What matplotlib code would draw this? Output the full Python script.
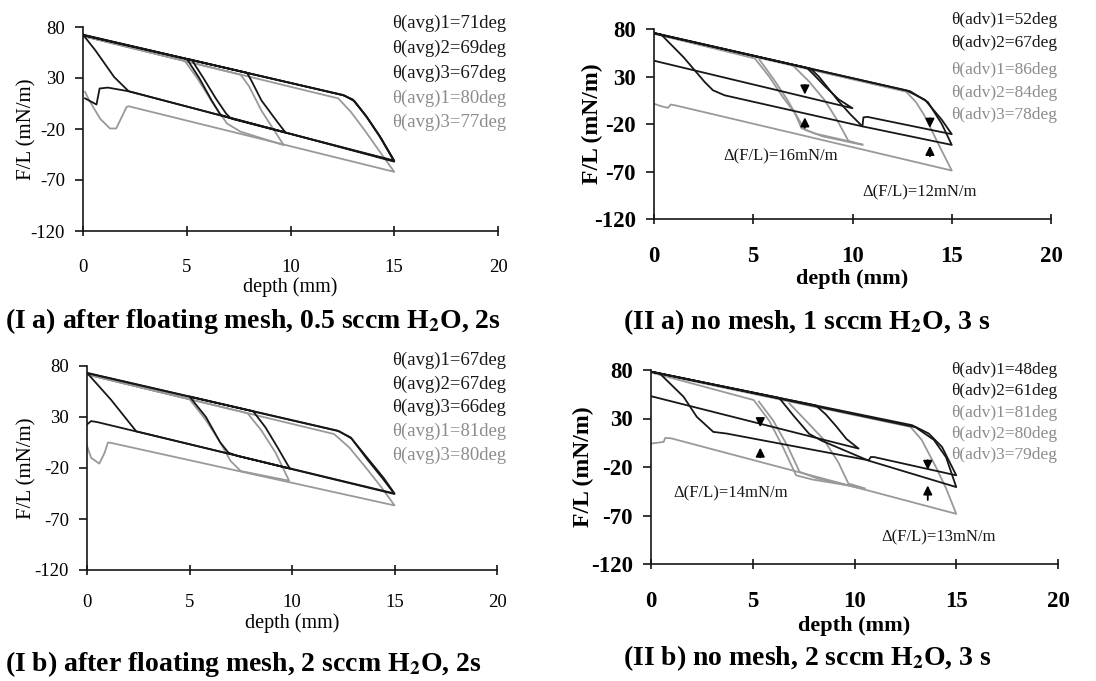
import matplotlib
matplotlib.use("Agg")
import matplotlib.pyplot as plt

plt.rcParams['font.family'] = ['Liberation Serif', 'DejaVu Serif']
plt.rcParams['mathtext.fontset'] = 'stix'
plt.rcParams['axes.unicode_minus'] = False

W, H = 1096, 681
BLACK = '#171717'
GRAY = '#999999'
LEG_GRAY = '#8c8c8c'

depth_ticks = [0, 5, 10, 15, 20]
force_ticks = [-120, -70, -20, 30, 80]

# ---- (I a) after floating mesh, 0.5 sccm
ia_black = [
    ([0.1, 0.65, 0.8, 1.2, 2.2, 15.0, 14.31, 13.67, 13.03, 12.55, 0.0],
     [10, 4, 19.7, 20.6, 17.0, -51.5, -27.7, -8.1, 8.2, 13.1, 72.5]),
    ([0.0, 0.6, 1.5, 2.2, 9.75, 9.4, 8.6, 8.1, 7.9, 5.0, 5.6, 6.2, 6.62, 7.26, 15.0, 14.35, 13.7, 13.1, 12.6, 0.0],
     [72.5, 57, 31, 17, -23.2, -14, 8, 28, 35.2, 48.8, 30, 8, -6, -10.5, -51.0, -28.5, -9, 7, 12.8, 72.2]),
    ([0.0, 5.25, 5.8, 6.4, 6.9, 7.1, 15.0, 14.3, 13.6, 13.0, 12.5, 0.0],
     [72.0, 47.5, 30, 10, -5, -9, -52, -27, -6, 9, 13.5, 72.0]),
]
ia_gray = [
    ([0.1, 0.3, 0.83, 1.3, 1.6, 2.1, 2.2, 15.0, 14.4, 13.6, 12.9, 12.3, 0.0],
     [16.4, 8, -10, -19.5, -19.5, 1.6, 2.3, -62, -45, -22, -3, 10, 71]),
    ([0.0, 4.9, 5.5, 6.3, 6.94, 7.58, 9.67, 9.3, 8.6, 8.0, 7.6, 0.0],
     [71.2, 46.8, 30, 4, -14.6, -22.5, -35.8, -24, -2, 22, 33.2, 71.2]),
]
ia_legend = ['θ(avg)1=71deg', 'θ(avg)2=69deg', 'θ(avg)3=67deg', 'θ(avg)1=80deg', 'θ(avg)3=77deg']

# ---- (I b) after floating mesh, 2 sccm
ib_black = [
    ([0.0, 0.2, 0.5, 15.0, 14.48, 13.67, 12.86, 12.21, 0.0],
     [22.7, 26, 25, -45, -30, -10, 10, 16.7, 73.3]),
    ([0.0, 1.18, 2.4, 9.9, 9.78, 9.3, 8.7, 8.1, 5.0, 5.8, 6.5, 6.9, 7.4, 15.0, 14.45, 13.65, 12.9, 12.3, 0.0],
     [73.3, 46.7, 16, -20.5, -16.7, 0, 20, 35.7, 50.1, 30, 5, -5, -8.5, -45.5, -31, -11, 9, 16, 73.0]),
]
ib_gray = [
    ([0.0, 0.2, 0.6, 0.86, 1.02, 1.2, 15.0, 14.4, 13.7, 12.8, 12.05, 0.0],
     [1.7, -10, -15.7, -5, 5, 4.5, -56.7, -40, -22, 0, 13.3, 71.7]),
    ([0.0, 5.0, 5.8, 6.5, 7.0, 7.5, 9.86, 9.2, 8.5, 7.83, 0.0],
     [71.7, 47.5, 27, 5, -13, -23, -32.5, -5, 17, 33.7, 71.7]),
]
ib_legend = ['θ(avg)1=67deg', 'θ(avg)2=67deg', 'θ(avg)3=66deg', 'θ(avg)1=81deg', 'θ(avg)3=80deg']

# ---- (II a) no mesh, 1 sccm
iia_black = [
    ([0.0, 10.0, 9.3, 8.6, 8.0, 7.7, 0.0],
     [46.6, -3.4, 6, 20, 33, 39.2, 75.8]),
    ([0.0, 0.37, 1.5, 2.55, 2.97, 3.56, 10.5, 10.55, 10.75, 15.0, 14.5, 13.65, 12.72, 0.0],
     [75.8, 74, 50, 24.3, 15.5, 10.2, -22.5, -13, -12.5, -30.7, -15.6, 5.5, 15.3, 75.8]),
    ([0.0, 7.9, 8.3, 8.8, 9.3, 9.9, 10.5, 15.0, 14.5, 13.8, 12.9, 0.0],
     [75.5, 38, 30, 17, 4, -10, -22.5, -42, -20, 3, 14.5, 75.5]),
]
iia_gray = [
    ([0.0, 0.4, 0.7, 0.85, 1.1, 15.0, 14.3, 13.65, 13.2, 12.7, 0.0],
     [1.3, -1.5, -3.0, 0.5, -0.5, -69, -40, -12, 3, 14, 75.0]),
    ([0.0, 5.08, 5.8, 6.5, 7.1, 7.43, 8.1, 10.0],
     [75.0, 49, 30, 8, -8.6, -24.4, -30, -39]),
    ([5.3, 6.0, 6.7, 7.2, 7.6, 8.5, 10.5],
     [48, 28, 6, -12, -26, -33, -42]),
    ([7.0, 7.8, 8.6, 9.2, 9.8, 10.5],
     [41.5, 25, 5, -15, -38, -41.5]),
]
iia_legend = ['θ(adv)1=52deg', 'θ(adv)2=67deg', 'θ(adv)1=86deg', 'θ(adv)2=84deg', 'θ(adv)3=78deg']
iia_arrows = [(7.6, 21, 11), (7.6, -24, -13), (13.9, -14, -24), (13.9, -54, -43)]
iia_notes = [(3.5, -54.5, 'Δ(F/L)=16mN/m'), (10.5, -91.5, 'Δ(F/L)=12mN/m')]

# ---- (II b) no mesh, 2 sccm
iib_black = [
    ([0.0, 10.2, 9.6, 9.1, 8.6, 8.1, 0.0],
     [53, -1, 9, 22, 34, 43.5, 78.3]),
    ([0.0, 0.45, 1.6, 2.25, 3.06, 3.71, 10.7, 10.8, 10.95, 15.0, 14.3, 13.65, 12.83, 0.0],
     [78.3, 76, 52.4, 31.7, 16.2, 14.5, -13.1, -9.7, -9.7, -28.6, 0.7, 14.5, 23.1, 78.3]),
    ([0.0, 6.3, 7.0, 7.77, 8.4, 10.7, 15.0, 14.5, 13.9, 13.0, 0.0],
     [78.3, 51.2, 33, 14.2, 7, -13.5, -40.7, -10, 8, 21, 78.3]),
]
iib_gray = [
    ([0.0, 0.62, 0.7, 1.0, 15.0, 14.5, 14.0, 13.3, 12.75, 0.0],
     [4.1, 5.9, 10, 9.5, -68.3, -42, -20, 8, 21.4, 77.5]),
    ([0.0, 5.05, 5.8, 6.48, 7.13, 7.95, 10.0],
     [77.5, 49, 28, 0.7, -28.6, -33, -40]),
    ([5.3, 6.0, 6.7, 7.3, 8.2, 10.5],
     [47.5, 28, 2, -25, -32, -43]),
    ([6.8, 7.6, 8.5, 9.2, 9.7, 10.5],
     [45.5, 28, 8, -15, -37, -42]),
]
iib_legend = ['θ(adv)1=48deg', 'θ(adv)2=61deg', 'θ(adv)1=81deg', 'θ(adv)2=80deg', 'θ(adv)3=79deg']
iib_arrows = [(5.37, 30, 21), (5.37, -10, 0), (13.6, -13, -23), (13.6, -54, -39)]
iib_notes = [(1.1, -47, 'Δ(F/L)=14mN/m'), (11.3, -93, 'Δ(F/L)=13mN/m')]

legend_colors = [BLACK, BLACK, BLACK, LEG_GRAY, LEG_GRAY]
adv_colors = [BLACK, BLACK, LEG_GRAY, LEG_GRAY, LEG_GRAY]


def px_axes(fig, left, top, right, bottom):
    return fig.add_axes([left / W, 1 - bottom / H, (right - left) / W, (bottom - top) / H])


def setup(ax, bold, xpad, ylab_x, xlab_y):
    weight = 'bold' if bold else 'normal'
    tsize = 16.5 if bold else 13.5
    ax.set_xlim(0, 20)
    ax.set_ylim(-120, 80)
    ax.set_xticks(depth_ticks)
    ax.set_yticks(force_ticks)
    for s in ['top', 'right']:
        ax.spines[s].set_visible(False)
    for s in ['left', 'bottom']:
        ax.spines[s].set_linewidth(1.2)
        ax.spines[s].set_color(BLACK)
    ax.tick_params(axis='x', direction='inout', length=7, width=1.1, pad=xpad, labelsize=tsize)
    ax.tick_params(axis='y', direction='out', length=6, width=1.1, pad=7, labelsize=tsize)
    for lab in ax.get_xticklabels() + ax.get_yticklabels():
        lab.set_fontweight(weight)
    ax.set_xlabel('depth (mm)', fontsize=16 if bold else 14.5, fontweight=weight, va='center')
    ax.set_ylabel('F/L (mN/m)', fontsize=17 if bold else 15, fontweight=weight, va='center')
    ax.xaxis.set_label_coords(0.5, xlab_y)
    ax.yaxis.set_label_coords(ylab_x, 0.5)
    ax.patch.set_alpha(0)


def draw(ax, blacks, grays):
    for xs, ys in grays:
        ax.plot(xs, ys, color=GRAY, lw=1.3, solid_joinstyle='round')
    for xs, ys in blacks:
        ax.plot(xs, ys, color=BLACK, lw=1.3, solid_joinstyle='round')


def legend(fig, x, rows, labels, colors, size):
    for y, lab, c in zip(rows, labels, colors):
        fig.text(x / W, 1 - y / H, lab, color=c, fontsize=size, va='center', ha='left')


fig = plt.figure(figsize=(W / 100, H / 100), dpi=100)
fig.patch.set_facecolor('white')

ax1 = px_axes(fig, 83, 27, 498, 231)
setup(ax1, False, 17, -0.135, -0.275)
draw(ax1, ia_black, ia_gray)
legend(fig, 392, [23, 48, 73, 98, 122], ia_legend, legend_colors, 13.5)

ax2 = px_axes(fig, 654, 29, 1051, 219)
setup(ax2, True, 16, -0.155, -0.318)
draw(ax2, iia_black, iia_gray)
legend(fig, 951, [20, 43, 70, 93, 115], iia_legend, adv_colors, 12.5)

ax3 = px_axes(fig, 87, 366, 497, 570)
setup(ax3, False, 14, -0.146, -0.26)
draw(ax3, ib_black, ib_gray)
legend(fig, 392, [360, 384, 407, 431, 455], ib_legend, legend_colors, 13.5)

ax4 = px_axes(fig, 651, 370, 1058, 564)
setup(ax4, True, 16, -0.167, -0.318)
draw(ax4, iib_black, iib_gray)
legend(fig, 951, [370, 391, 413, 434, 455], iib_legend, adv_colors, 12.5)

for ax, arrows, notes in [(ax2, iia_arrows, iia_notes), (ax4, iib_arrows, iib_notes)]:
    for x, y0, y1 in arrows:
        ax.annotate('', xy=(x, y1), xytext=(x, y0),
                    arrowprops=dict(arrowstyle='-|>', color='black', lw=1.3, mutation_scale=13,
                                    shrinkA=0, shrinkB=0))
    for x, y, t in notes:
        ax.text(x, y, t, fontsize=12, ha='left', va='center', color=BLACK)

title_kw = dict(fontsize=20, fontweight='bold', va='center', ha='left', color='black')
fig.text(5 / W, 1 - 321 / H, r'(I a) after floating mesh, 0.5 sccm H$_\mathbf{2}$O, 2s', **title_kw)
fig.text(623 / W, 1 - 322 / H, r'(II a) no mesh, 1 sccm H$_\mathbf{2}$O, 3 s', **title_kw)
fig.text(5 / W, 1 - 664 / H, r'(I b) after floating mesh, 2 sccm H$_\mathbf{2}$O, 2s', **title_kw)
fig.text(623 / W, 1 - 658 / H, r'(II b) no mesh, 2 sccm H$_\mathbf{2}$O, 3 s', **title_kw)

fig.savefig('out.png', dpi=100)
